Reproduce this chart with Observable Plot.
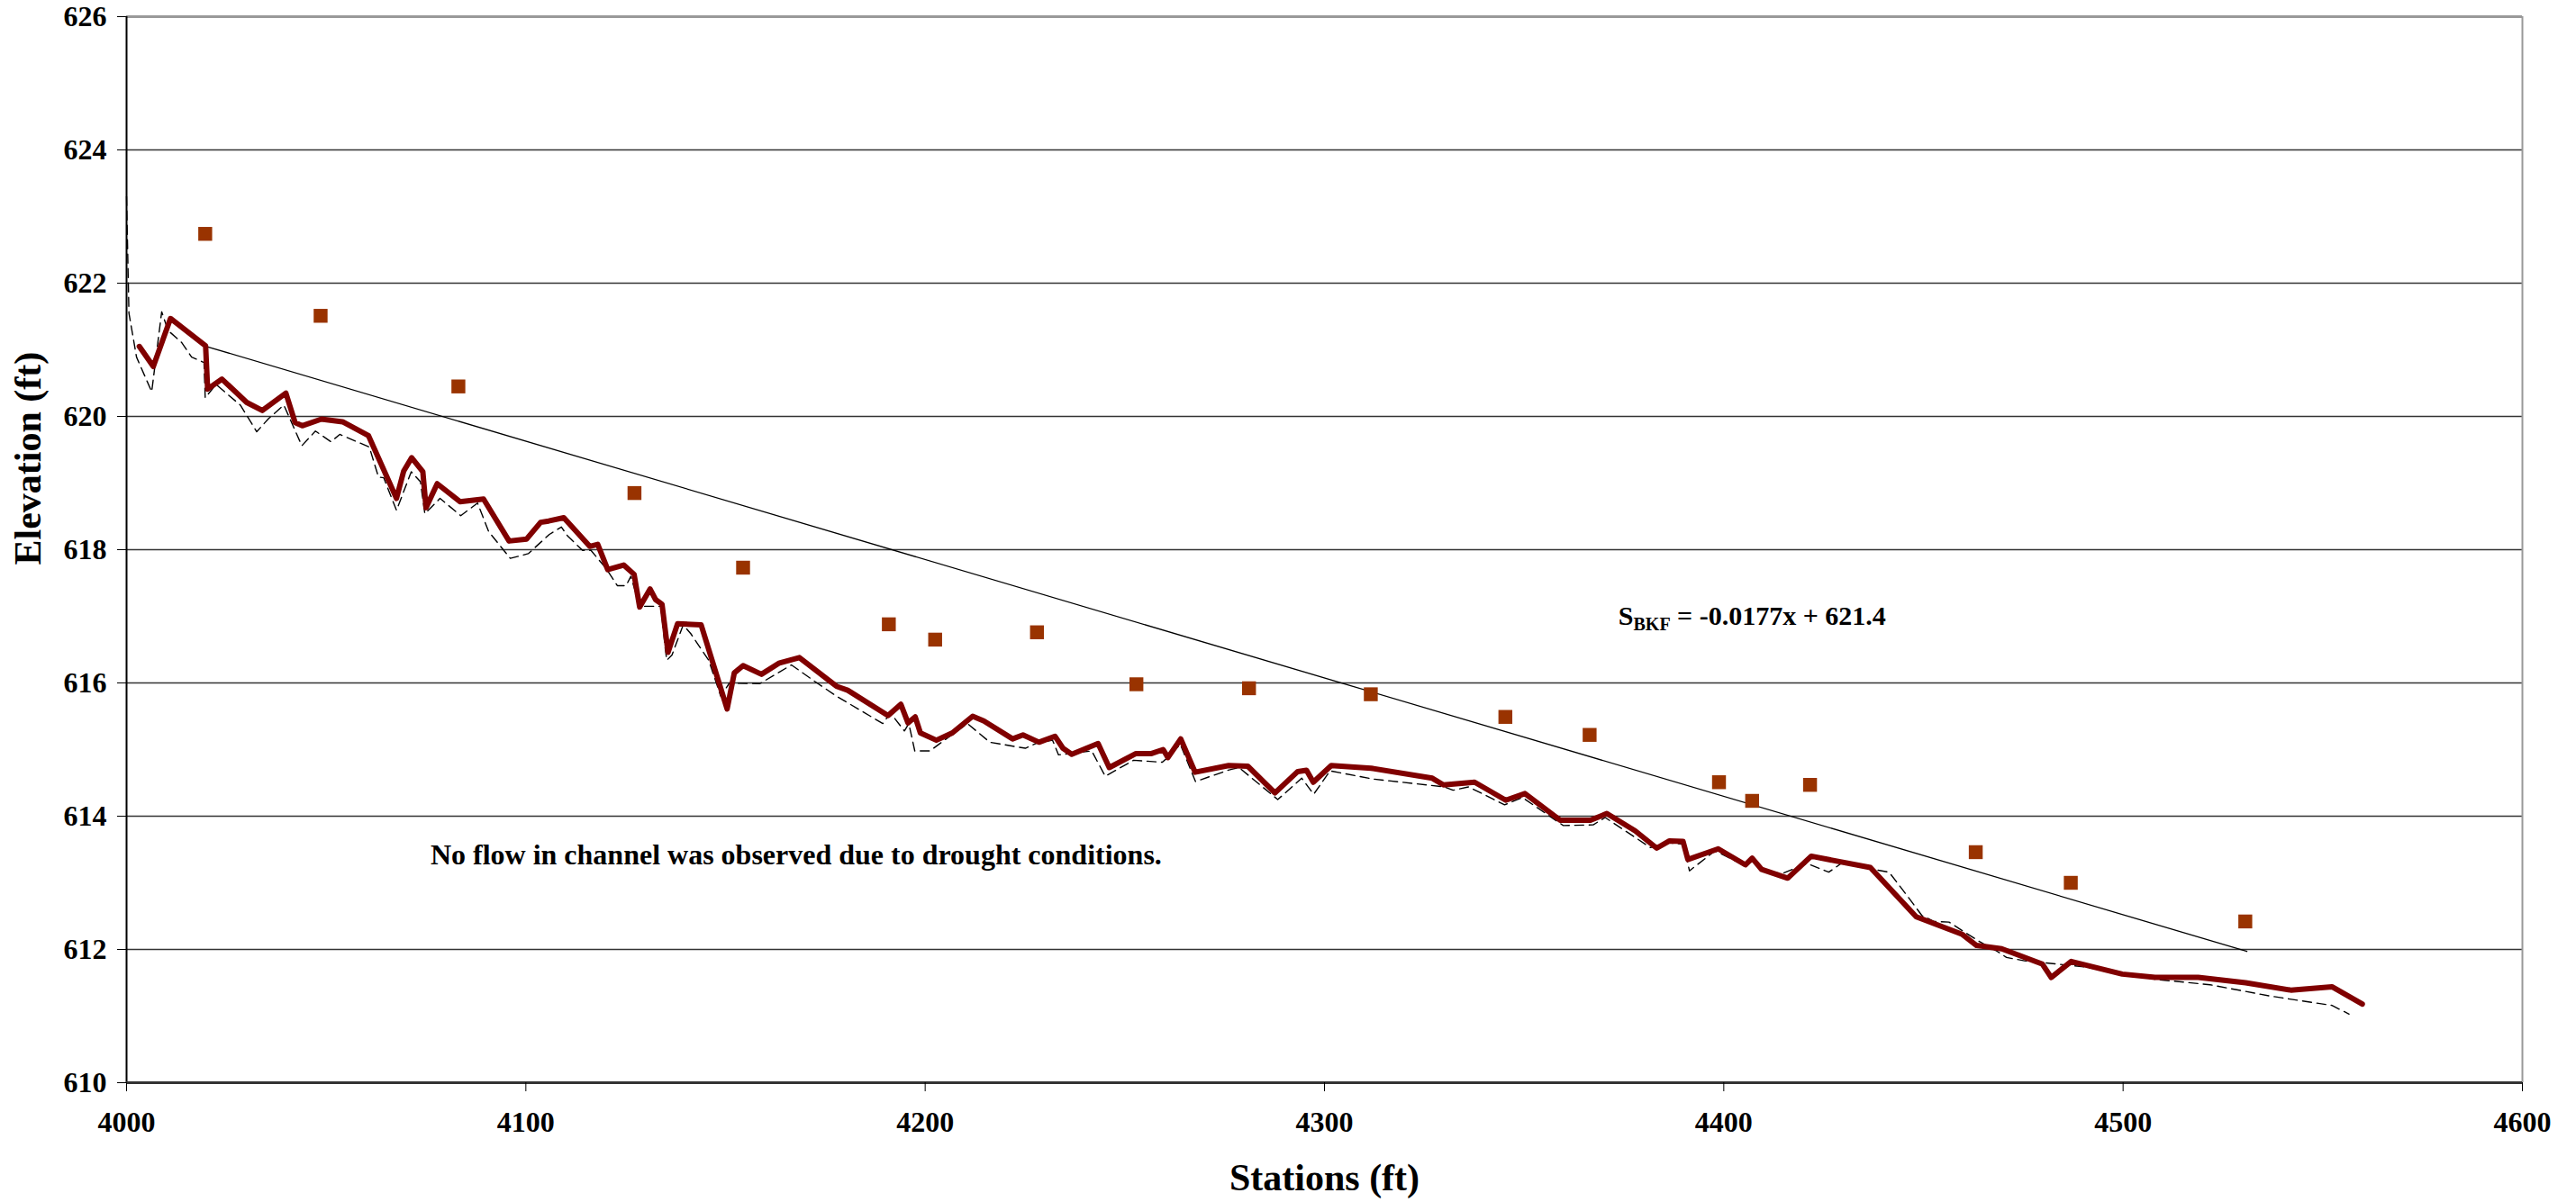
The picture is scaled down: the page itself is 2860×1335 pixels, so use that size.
<!DOCTYPE html>
<html>
<head>
<meta charset="utf-8">
<script src="https://cdn.jsdelivr.net/npm/d3@7"></script>
<script src="https://cdn.jsdelivr.net/npm/@observablehq/plot@0.6"></script>
<style>
  html, body { margin: 0; padding: 0; background: #fff; }
  #chart svg { display: block; }
</style>
</head>
<body>
<div id="chart"></div>
<script>
// ---- Data ----
const thalwegStation = [4003.2,4006.7,4011.0,4019.8,4020.3,4023.9,4030.1,4034.0,4039.9,4042.2,4044.0,4048.8,4054.1,4060.6,4067.6,4069.4,4071.4,4074.2,4075.0,4077.8,4083.5,4089.4,4095.8,4100.2,4103.7,4105.7,4109.5,4116.0,4118.0,4120.5,4124.5,4127.1,4128.5,4131.1,4132.5,4134.1,4135.6,4138.0,4143.9,4150.4,4152.2,4154.4,4159.0,4163.5,4168.5,4177.8,4180.6,4190.7,4193.9,4195.7,4197.5,4198.8,4202.8,4206.8,4211.9,4214.7,4221.9,4224.5,4228.5,4232.5,4234.5,4236.7,4243.3,4246.1,4252.8,4256.7,4259.6,4260.8,4264.0,4267.6,4276.0,4280.8,4287.6,4293.3,4295.5,4297.2,4301.7,4311.7,4327.0,4329.8,4337.6,4345.4,4350.2,4359.0,4366.6,4370.7,4377.8,4383.2,4386.4,4389.8,4391.0,4398.6,4405.4,4407.1,4409.5,4416.0,4421.9,4436.7,4448.2,4459.6,4463.3,4469.6,4479.8,4482.0,4487.0,4499.8,4508.0,4518.8,4530.7,4542.0,4552.3,4559.9];
const thalwegElev = [621.05,620.75,621.47,621.06,620.41,620.56,620.21,620.09,620.35,619.91,619.86,619.96,619.92,619.71,618.77,619.18,619.38,619.17,618.63,618.99,618.72,618.76,618.13,618.16,618.41,618.43,618.48,618.05,618.08,617.70,617.77,617.63,617.14,617.41,617.25,617.18,616.46,616.89,616.87,615.61,616.15,616.26,616.13,616.30,616.38,615.95,615.89,615.51,615.68,615.40,615.49,615.25,615.14,615.25,615.50,615.43,615.16,615.22,615.11,615.20,615.02,614.93,615.09,614.73,614.94,614.94,615.00,614.88,615.16,614.66,614.76,614.75,614.35,614.67,614.69,614.51,614.76,614.72,614.57,614.47,614.51,614.24,614.34,613.94,613.94,614.04,613.78,613.52,613.63,613.62,613.35,613.51,613.27,613.37,613.20,613.07,613.40,613.23,612.49,612.23,612.06,612.01,611.78,611.58,611.82,611.63,611.58,611.58,611.50,611.39,611.44,611.18];

const surveyStation = [4000.0,4000.6,4002.5,4006.3,4008.8,4010.4,4013.8,4016.3,4019.4,4019.7,4022.4,4028.5,4032.6,4035.6,4039.4,4043.9,4047.3,4051.2,4053.4,4060.8,4063.1,4064.4,4067.6,4071.3,4073.6,4074.7,4078.5,4083.7,4087.9,4090.7,4096.1,4100.6,4105.9,4108.9,4110.4,4114.2,4116.3,4120.2,4122.9,4125.1,4126.3,4128.5,4133.8,4134.9,4135.3,4136.6,4139.4,4141.3,4145.8,4148.8,4151.0,4158.6,4166.5,4172.9,4178.1,4189.4,4191.3,4194.8,4195.9,4197.4,4201.2,4206.4,4210.6,4216.2,4223.0,4225.1,4228.1,4231.9,4233.4,4241.7,4245.1,4252.2,4259.4,4260.9,4263.9,4267.7,4275.9,4278.6,4288.3,4294.3,4297.3,4301.4,4311.9,4330.0,4332.2,4336.1,4345.1,4349.6,4359.8,4367.3,4370.3,4381.6,4386.4,4389.9,4391.4,4397.8,4405.5,4407.2,4409.5,4414.7,4420.8,4426.3,4429.4,4441.4,4446.0,4449.6,4452.6,4456.4,4459.8,4464.0,4468.5,4470.8,4475.3,4490.2,4508.3,4521.8,4536.9,4552.3,4556.6];
const surveyElev = [623.30,621.55,620.89,620.37,621.57,621.29,621.11,620.89,620.81,620.28,620.48,620.17,619.77,619.97,620.17,619.56,619.78,619.62,619.73,619.54,619.09,619.08,618.59,619.17,619.02,618.54,618.77,618.51,618.70,618.27,617.87,617.94,618.23,618.34,618.21,617.99,617.99,617.71,617.46,617.46,617.60,617.15,617.15,616.52,616.34,616.42,616.87,616.74,616.34,615.80,616.00,615.99,616.27,616.00,615.79,615.39,615.55,615.28,615.39,614.98,614.98,615.21,615.39,615.11,615.04,615.02,615.10,615.14,614.92,614.98,614.60,614.84,614.81,614.89,615.08,614.52,614.69,614.73,614.25,614.57,614.33,614.68,614.56,614.44,614.39,614.44,614.17,614.28,613.86,613.87,613.98,613.53,613.60,613.58,613.18,613.48,613.25,613.33,613.18,613.14,613.29,613.16,613.29,613.16,612.80,612.51,612.42,612.41,612.28,612.12,611.97,611.88,611.83,611.74,611.55,611.47,611.30,611.16,611.03];

const bkfStation = [4019.7,4048.6,4083.1,4127.2,4154.4,4190.9,4202.5,4228.0,4252.9,4281.1,4311.6,4345.3,4366.4,4398.8,4407.1,4421.6,4463.1,4486.9,4530.6];
const bkfElev = [622.74,621.51,620.45,618.85,617.73,616.88,616.65,616.76,615.98,615.92,615.83,615.49,615.22,614.51,614.23,614.47,613.46,613.00,612.42];

// Bankfull trend line end points
const trendStation = [4020, 4531];
const trendElev = [621.05, 611.97];

const xTicks = [4000, 4100, 4200, 4300, 4400, 4500, 4600];
const yTicks = [610, 612, 614, 616, 618, 620, 622, 624, 626];
const gridElev = [612, 614, 616, 618, 620, 622, 624];

const equationLabel = "SBKF = -0.0177x + 621.4";
const noteLabel = "No flow in channel was observed due to drought conditions.";
const xTitle = "Stations (ft)";
const yTitle = "Elevation (ft)";

// ---- Tables built from the arrays ----
const thalweg = thalwegStation.map((s, i) => ({station: s, elev: thalwegElev[i]}));
const survey = surveyStation.map((s, i) => ({station: s, elev: surveyElev[i]}));
const bkf = bkfStation.map((s, i) => ({station: s, elev: bkfElev[i]}));
const trend = trendStation.map((s, i) => ({station: s, elev: trendElev[i]}));
const notes = [
  {station: 4373.6, elev: 617.0, label: equationLabel, size: 30},
  {station: 4076.1, elev: 613.41, label: noteLabel, size: 32}
];

const chart = Plot.plot({
  width: 2860,
  height: 1335,
  marginLeft: 140,
  marginRight: 60,
  marginTop: 18,
  marginBottom: 133,
  style: {
    fontFamily: "'Liberation Serif', 'Times New Roman', serif",
    fontWeight: "bold",
    fontSize: "32px",
    background: "#fff",
    color: "#000"
  },
  x: {domain: [4000, 4600]},
  y: {domain: [610, 626]},
  marks: [
    Plot.ruleY(gridElev, {stroke: "#333", strokeWidth: 1.4}),
    Plot.ruleY([626], {stroke: "#999", strokeWidth: 3}),
    Plot.ruleX([4600], {stroke: "#999", strokeWidth: 2}),
    Plot.line(trend, {x: "station", y: "elev", stroke: "#000", strokeWidth: 1.3}),
    Plot.line(survey, {x: "station", y: "elev", stroke: "#000", strokeWidth: 1.4, strokeDasharray: "10,6"}),
    Plot.line(thalweg, {x: "station", y: "elev", stroke: "#800000", strokeWidth: 6, strokeLinejoin: "round"}),
    Plot.dot(bkf, {x: "station", y: "elev", symbol: "square", r: 8.7, fill: "#993300", stroke: "none"}),
    Plot.ruleX([4000], {stroke: "#000", strokeWidth: 2}),
    Plot.ruleY([610], {stroke: "#333", strokeWidth: 3}),
    Plot.axisX({ticks: xTicks, tickSize: 10, tickPadding: 22, tickFormat: d => String(d), label: null, fontSize: 32}),
    Plot.axisY({ticks: yTicks, tickSize: 10, tickPadding: 12, tickFormat: d => String(d), label: null, fontSize: 32}),
    Plot.text(notes, {x: "station", y: "elev", text: "label", fontSize: "size", textAnchor: "start", lineAnchor: "middle", fill: "#000", fontWeight: "bold"}),
    Plot.text([xTitle], {frameAnchor: "bottom", dy: 106, fontSize: 42, fontWeight: "bold", lineAnchor: "middle", fill: "#000"}),
    Plot.text([yTitle], {frameAnchor: "left", dx: -109, dy: 17, rotate: -90, fontSize: 42, fontWeight: "bold", lineAnchor: "middle", fill: "#000"})
  ]
});

// Subscript for S_BKF in the equation label
d3.select(chart).selectAll("text").each(function() {
  if (this.textContent === equationLabel) {
    const t = d3.select(this);
    t.text(null);
    t.append("tspan").text("S");
    t.append("tspan").attr("font-size", 20).attr("dy", 6).text("BKF");
    t.append("tspan").attr("dy", -6).text(" = -0.0177x + 621.4");
  }
});

document.getElementById("chart").appendChild(chart);
</script>
</body>
</html>
